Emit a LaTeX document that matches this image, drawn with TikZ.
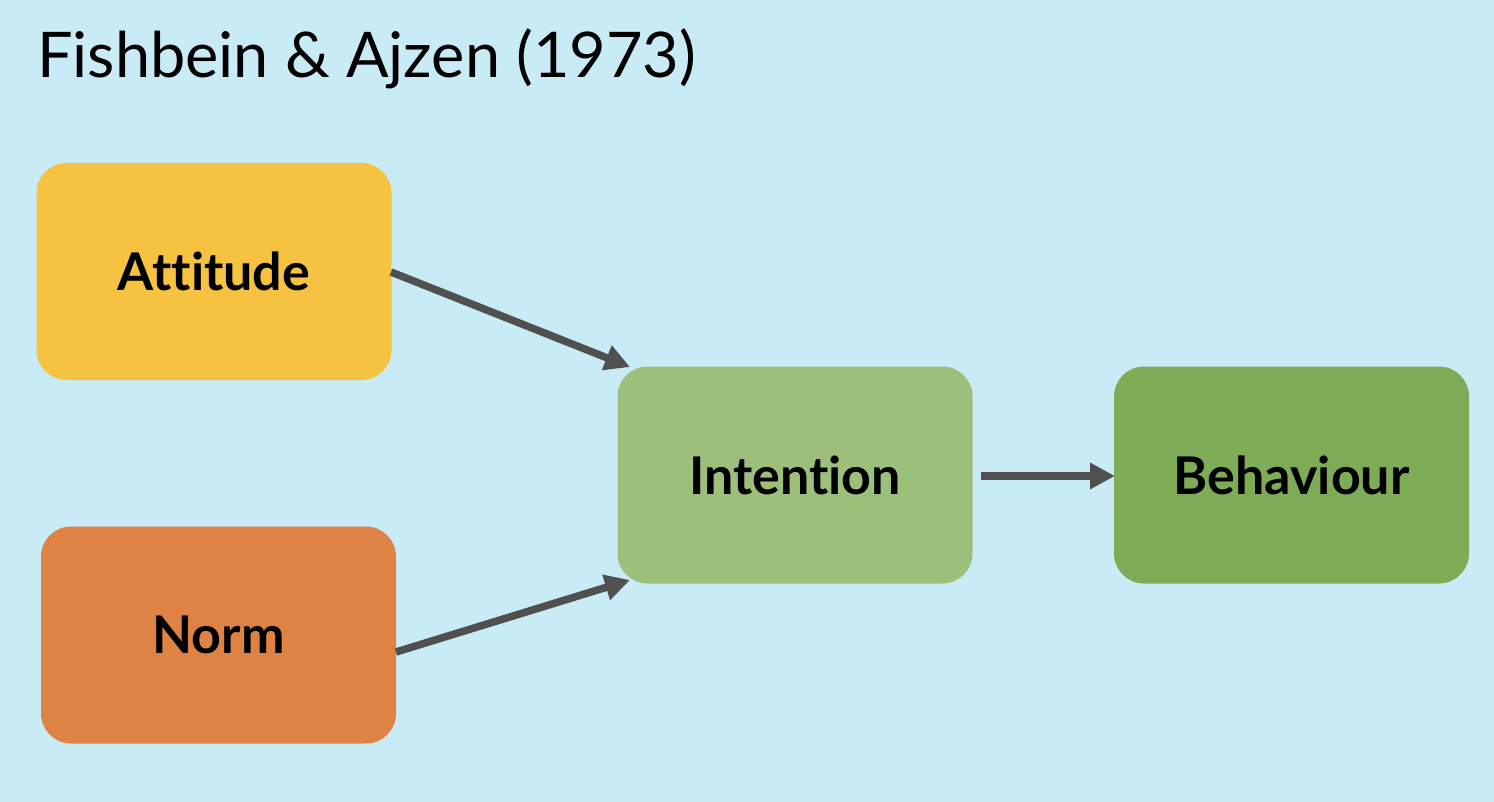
\documentclass[tikz,border=0pt]{standalone}
\usepackage{fontspec}
\setmainfont{Lato}[Ligatures=NoCommon]
\usetikzlibrary{arrows.meta}
\definecolor{bg}{HTML}{C8EBF6}
\definecolor{att}{HTML}{F5C242}
\definecolor{nrm}{HTML}{DF8344}
\definecolor{inten}{HTML}{9DBF7C}
\definecolor{beh}{HTML}{7DAB56}
\definecolor{arr}{HTML}{505050}
\tikzset{
  box/.style={rounded corners=30pt, minimum width=355pt, minimum height=217pt, inner sep=0pt,
    font=\fontsize{52}{60}\selectfont\bfseries},
  conn/.style={draw=arr, line width=7.5pt, -{Triangle[length=25pt,width=25pt]}}
}
\begin{document}
\begin{tikzpicture}[x=1pt,y=-1pt]
\fill[bg] (0,0) rectangle (1494,802);
\useasboundingbox (0,0) rectangle (1494,802);
\node[anchor=base west, inner sep=0pt, font=\fontsize{63}{75}\selectfont] (title) at (37,78) {Fishbein \& Ajzen (1973)};
\node[box, fill=att] (attitude) at (214,271.5) {Attitude};
\node[box, fill=nrm] (norm) at (218.5,635) {Norm};
\node[box, fill=inten] (intention) at (795,475) {Intention};
\node[box, fill=beh] (behaviour) at (1291.5,475) {Behaviour};
\coordinate (a1) at (391,272);
\coordinate (a2) at (630,367);
\coordinate (n1) at (396,652);
\coordinate (n2) at (630,580);
\coordinate (i1) at (981,476);
\coordinate (i2) at (1115,476);
\draw[conn] (a1) -- (a2);
\draw[conn] (n1) -- (n2);
\draw[conn] (i1) -- (i2);
\end{tikzpicture}
\end{document}
